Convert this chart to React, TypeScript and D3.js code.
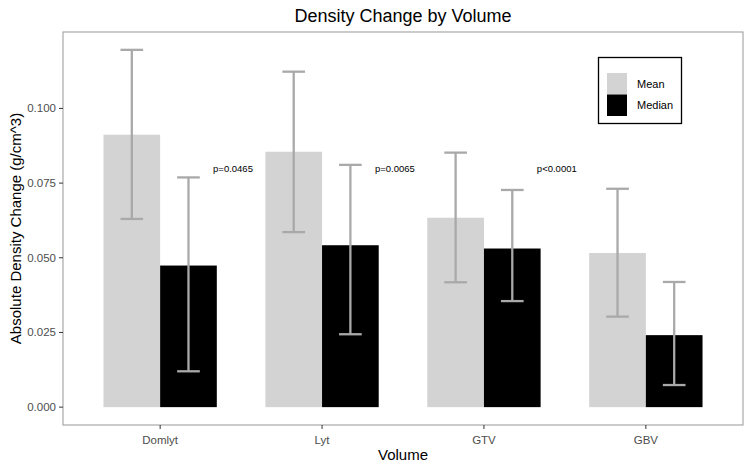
import React from "react";
import * as d3 from "d3";

const categories = ["Domlyt", "Lyt", "GTV", "GBV"];
const meanValues = [0.0912, 0.0855, 0.0634, 0.0516];
const meanLower = [0.063, 0.0586, 0.0418, 0.0303];
const meanUpper = [0.1196, 0.1123, 0.0852, 0.0731];
const medianValues = [0.0474, 0.0542, 0.0531, 0.0241];
const medianLower = [0.012, 0.0244, 0.0355, 0.0074];
const medianUpper = [0.0769, 0.0811, 0.0727, 0.0419];
const pLabels = ["p=0.0465", "p=0.0065", "p<0.0001"];
const pLabelY = 0.0798;
const yTicks = [0, 0.025, 0.05, 0.075, 0.1];
const seriesNames = ["Mean", "Median"];

const W = 750;
const H = 469;
const panel = { left: 63, right: 743, top: 32, bottom: 425 };
const FONT = "'Liberation Sans', Arial, sans-serif";
const MEAN_COLOR = "#d3d3d3";
const MEDIAN_COLOR = "#000000";
const ERR_COLOR = "#a9a9a9";

export default function App() {
  const ymax = d3.max([...meanUpper, ...medianUpper]) as number;
  const pad = ymax * 0.05;
  const y = d3.scaleLinear().domain([-pad, ymax + pad]).range([panel.bottom, panel.top]);
  const n = categories.length;
  const x = d3.scaleLinear().domain([0.4, n + 0.6]).range([panel.left, panel.right]);
  const unit = x(1) - x(0);
  const barW = 0.35 * unit;
  const capW = 0.14 * unit;
  const fmt = d3.format(".3f");

  const series = [
    { values: meanValues, lower: meanLower, upper: meanUpper, color: MEAN_COLOR, off: -0.175 },
    { values: medianValues, lower: medianLower, upper: medianUpper, color: MEDIAN_COLOR, off: 0.175 },
  ];

  return (
    <svg
      width={W}
      height={H}
      style={{ position: "absolute", left: 0, top: 0, background: "#fff" }}
      fontFamily={FONT}
    >
      <rect x={0} y={0} width={W} height={H} fill="#fff" />
      {/* bars */}
      {series.map((s, si) =>
        categories.map((c, i) => {
          const cx = x(i + 1) + s.off * unit;
          return (
            <rect
              key={`b-${si}-${c}`}
              x={cx - barW / 2}
              y={y(s.values[i])}
              width={barW}
              height={y(0) - y(s.values[i])}
              fill={s.color}
            />
          );
        })
      )}
      {/* error bars */}
      {series.map((s, si) =>
        categories.map((c, i) => {
          const cx = x(i + 1) + s.off * unit;
          return (
            <g key={`e-${si}-${c}`} stroke={ERR_COLOR} strokeWidth={2.3} fill="none">
              <line x1={cx} x2={cx} y1={y(s.lower[i])} y2={y(s.upper[i])} />
              <line x1={cx - capW / 2} x2={cx + capW / 2} y1={y(s.upper[i])} y2={y(s.upper[i])} />
              <line x1={cx - capW / 2} x2={cx + capW / 2} y1={y(s.lower[i])} y2={y(s.lower[i])} />
            </g>
          );
        })
      )}
      {/* p labels */}
      {pLabels.map((p, i) => (
        <text
          key={p}
          x={x(i + 1) + 0.45 * unit}
          y={y(pLabelY)}
          dy="0.35em"
          textAnchor="middle"
          fontSize={9.5}
          fill="#000"
        >
          {p}
        </text>
      ))}
      {/* panel border */}
      <rect
        x={panel.left}
        y={panel.top}
        width={panel.right - panel.left}
        height={panel.bottom - panel.top}
        fill="none"
        stroke="#a0a0a0"
        strokeWidth={1.1}
      />
      {/* y axis */}
      {yTicks.map((t) => (
        <g key={`yt-${t}`}>
          <line x1={panel.left - 4} x2={panel.left} y1={y(t)} y2={y(t)} stroke="#333" strokeWidth={1} />
          <text
            x={panel.left - 7}
            y={y(t)}
            dy="0.35em"
            textAnchor="end"
            fontSize={11.5}
            fill="#4d4d4d"
          >
            {fmt(t)}
          </text>
        </g>
      ))}
      {/* x axis */}
      {categories.map((c, i) => (
        <g key={`xt-${c}`}>
          <line x1={x(i + 1)} x2={x(i + 1)} y1={panel.bottom} y2={panel.bottom + 4} stroke="#333" strokeWidth={1} />
          <text x={x(i + 1)} y={panel.bottom + 19} textAnchor="middle" fontSize={11.5} fill="#4d4d4d">
            {c}
          </text>
        </g>
      ))}
      {/* axis titles */}
      <text
        x={(panel.left + panel.right) / 2}
        y={460}
        textAnchor="middle"
        fontSize={15}
        fill="#000"
      >
        Volume
      </text>
      <text
        transform={`translate(21, ${(panel.top + panel.bottom) / 2}) rotate(-90)`}
        textAnchor="middle"
        fontSize={15}
        fill="#000"
      >
        Absolute Density Change (g/cm^3)
      </text>
      {/* title */}
      <text
        x={(panel.left + panel.right) / 2}
        y={22}
        textAnchor="middle"
        fontSize={18}
        fill="#000"
      >
        Density Change by Volume
      </text>
      {/* legend */}
      <g>
        <rect x={598.5} y={57.5} width={83} height={66} fill="#fff" stroke="#000" strokeWidth={1.3} />
        {seriesNames.map((name, i) => (
          <g key={name}>
            <rect x={607} y={73 + i * 21.5} width={20} height={21.5} fill={series[i].color} />
            <text x={637} y={73 + i * 21.5 + 10.75} dy="0.35em" fontSize={11} fill="#000">
              {name}
            </text>
          </g>
        ))}
      </g>
    </svg>
  );
}
